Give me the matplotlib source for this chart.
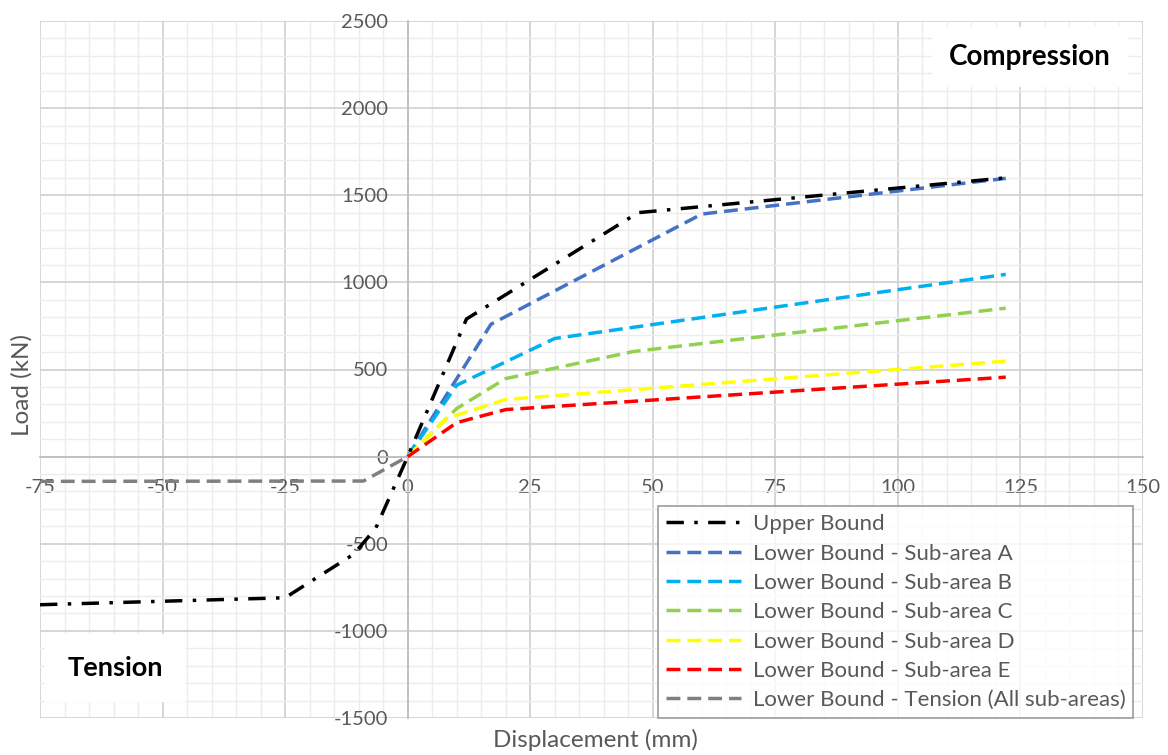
import matplotlib.pyplot as plt
from matplotlib.ticker import MultipleLocator

plt.rcParams['font.family'] = ['Lato', 'DejaVu Sans']
plt.rcParams['axes.unicode_minus'] = False

# data (displacement mm, load kN)
ub_x = [-75, -25, -11, -6.5, 0, 12, 47, 122]
ub_y = [-850, -810, -560, -410, 0, 790, 1400, 1600]

a_x = [0, 17, 60, 122]
a_y = [0, 760, 1392, 1597]

b_x = [0, 10, 30, 122]
b_y = [0, 410, 678, 1046]

c_x = [0, 10, 20, 46, 122]
c_y = [0, 276, 448, 603, 852]

d_x = [0, 8, 20, 122]
d_y = [0, 220, 328, 548]

e_x = [0, 10, 20, 122]
e_y = [0, 195, 270, 456]

t_x = [-75, -9, 0]
t_y = [-142, -140, 0]

labels = ["Upper Bound",
          "Lower Bound - Sub-area A",
          "Lower Bound - Sub-area B",
          "Lower Bound - Sub-area C",
          "Lower Bound - Sub-area D",
          "Lower Bound - Sub-area E",
          "Lower Bound - Tension (All sub-areas)"]

fig = plt.figure(figsize=(11.68, 7.55), dpi=100)
ax = fig.add_axes([40/1168, 1-718/755, 1103/1168, 697/755])

dash = (0, (4, 2))
ax.plot(ub_x, ub_y, color='black', lw=2.5, linestyle=(0, (5, 3, 1, 3)), label=labels[0], zorder=4)
ax.plot(a_x, a_y, color='#4472C4', lw=2.5, linestyle=dash, label=labels[1], zorder=3)
ax.plot(b_x, b_y, color='#00B0F0', lw=2.5, linestyle=dash, label=labels[2], zorder=3)
ax.plot(c_x, c_y, color='#92D050', lw=2.5, linestyle=dash, label=labels[3], zorder=3)
ax.plot(d_x, d_y, color='#FFFF00', lw=2.5, linestyle=dash, label=labels[4], zorder=3)
ax.plot(e_x, e_y, color='#FF0000', lw=2.5, linestyle=dash, label=labels[5], zorder=3)
ax.plot(t_x, t_y, color='#808080', lw=2.5, linestyle=dash, label=labels[6], zorder=3)

ax.set_xlim(-75, 150)
ax.set_ylim(-1500, 2500)
ax.xaxis.set_major_locator(MultipleLocator(25))
ax.xaxis.set_minor_locator(MultipleLocator(5))
ax.yaxis.set_major_locator(MultipleLocator(500))
ax.yaxis.set_minor_locator(MultipleLocator(100))
ax.grid(which='major', color='#d0d0d0', lw=1.2, zorder=0)
ax.grid(which='minor', color='#ececec', lw=1.0, zorder=0)
ax.set_axisbelow(True)

for s in ['top', 'right']:
    ax.spines[s].set_visible(False)
ax.spines['left'].set_position(('data', 0))
ax.spines['bottom'].set_position(('data', 0))
ax.spines['left'].set_color('#bfbfbf')
ax.spines['bottom'].set_color('#bfbfbf')
ax.spines['left'].set_linewidth(1.3)
ax.spines['bottom'].set_linewidth(1.3)
ax.tick_params(which='both', length=0, labelsize=14.5, labelcolor='#595959')
ax.tick_params(axis='y', pad=14)
ax.tick_params(axis='x', pad=16)

fig.text(595/1168, 1-740/755, "Displacement (mm)", ha='center', va='center', fontsize=17.5, color='#595959')
fig.text(22/1168, 1-385/755, "Load (kN)", ha='center', va='center', rotation=90, fontsize=17.5, color='#595959')

ax.text(1030/1168, 1-57/755, "Compression", transform=fig.transFigure, ha='center', va='center',
        fontsize=20, fontweight='bold', color='black', zorder=6,
        bbox=dict(facecolor='white', edgecolor='none', pad=12))
ax.text(115/1168, 1-668/755, "Tension", transform=fig.transFigure, ha='center', va='center',
        fontsize=19.5, fontweight='bold', color='black', zorder=6,
        bbox=dict(facecolor='white', edgecolor='none', pad=16))

leg = ax.legend(loc='lower right', bbox_to_anchor=(0.991, 0.0), borderaxespad=0,
                fontsize=16, frameon=True, fancybox=False, handlelength=3.4,
                labelspacing=0.42, borderpad=0.35, handletextpad=0.5)
leg.get_frame().set_edgecolor('#8c8c8c')
leg.get_frame().set_linewidth(1.3)
for t in leg.get_texts():
    t.set_color('#595959')
leg.set_zorder(7)

fig.savefig("out.png", dpi=100)
